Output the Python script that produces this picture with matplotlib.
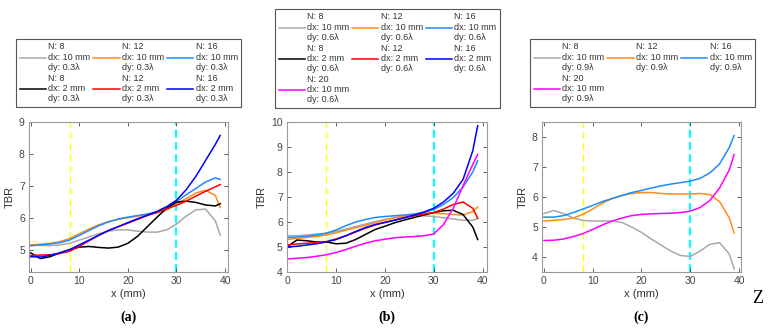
import numpy as np
import matplotlib
matplotlib.use("Agg")
import matplotlib.pyplot as plt

plt.rcParams['font.family'] = ['Liberation Sans', 'DejaVu Sans']

# sample positions (mm)
x = [0, 2, 4, 6, 8, 10, 12, 14, 16, 18, 20, 22, 24, 26, 28, 30, 32, 34, 36, 38, 39]

# (a) dy: 0.3 lambda
a_n8_10 = [5.15, 5.13, 5.13, 5.15, 5.2, 5.3, 5.4, 5.5, 5.58, 5.62, 5.62, 5.58, 5.55, 5.55, 5.62, 5.8, 6.05, 6.25, 6.27, 5.9, 5.45]
a_n12_10 = [5.15, 5.17, 5.2, 5.25, 5.35, 5.5, 5.65, 5.78, 5.88, 5.95, 6.0, 6.05, 6.1, 6.15, 6.25, 6.44, 6.6, 6.78, 6.86, 6.7, 6.32]
a_n16_10 = [5.12, 5.15, 5.18, 5.22, 5.3, 5.45, 5.6, 5.75, 5.87, 5.96, 6.02, 6.07, 6.12, 6.18, 6.3, 6.51, 6.72, 6.92, 7.12, 7.25, 7.2]
a_n8_2 = [4.9, 4.72, 4.78, 4.9, 5.0, 5.08, 5.1, 5.07, 5.05, 5.08, 5.2, 5.42, 5.72, 6.02, 6.3, 6.49, 6.52, 6.48, 6.4, 6.37, 6.44]
a_n12_2 = [4.82, 4.83, 4.84, 4.88, 4.95, 5.1, 5.28, 5.45, 5.6, 5.72, 5.83, 5.95, 6.07, 6.17, 6.28, 6.39, 6.52, 6.68, 6.83, 6.97, 7.04]
a_n16_2 = [4.78, 4.77, 4.82, 4.9, 5.0, 5.15, 5.3, 5.45, 5.6, 5.72, 5.85, 5.97, 6.08, 6.2, 6.35, 6.55, 6.88, 7.3, 7.8, 8.3, 8.58]

# (b) dy: 0.6 lambda
b_n8_10 = [5.45, 5.45, 5.48, 5.52, 5.55, 5.62, 5.72, 5.82, 5.92, 6.02, 6.1, 6.17, 6.22, 6.25, 6.25, 6.22, 6.17, 6.12, 6.07, 6.07, 6.15]
b_n12_10 = [5.3, 5.35, 5.38, 5.42, 5.48, 5.57, 5.67, 5.77, 5.87, 5.97, 6.08, 6.18, 6.25, 6.3, 6.33, 6.35, 6.33, 6.3, 6.28, 6.42, 6.6]
b_n16_10 = [5.38, 5.4, 5.43, 5.48, 5.55, 5.68, 5.85, 6.0, 6.1, 6.18, 6.22, 6.25, 6.28, 6.32, 6.38, 6.5, 6.7, 6.98, 7.4, 8.0, 8.45]
b_n8_2 = [5.02, 5.28, 5.25, 5.2, 5.2, 5.13, 5.15, 5.3, 5.5, 5.7, 5.83, 5.97, 6.08, 6.18, 6.28, 6.38, 6.45, 6.47, 6.3, 5.8, 5.3]
b_n12_2 = [5.08, 5.12, 5.15, 5.18, 5.22, 5.32, 5.45, 5.6, 5.75, 5.88, 5.99, 6.08, 6.17, 6.25, 6.32, 6.38, 6.52, 6.7, 6.8, 6.55, 6.15]
b_n16_2 = [5.0, 5.03, 5.08, 5.13, 5.2, 5.3, 5.45, 5.62, 5.78, 5.9, 5.98, 6.07, 6.17, 6.28, 6.4, 6.55, 6.8, 7.15, 7.7, 8.85, 9.85]
b_n20_10 = [4.52, 4.55, 4.58, 4.63, 4.69, 4.78, 4.9, 5.03, 5.15, 5.25, 5.31, 5.37, 5.4, 5.42, 5.45, 5.52, 5.9, 6.55, 7.45, 8.3, 8.7]

# (c) dy: 0.9 lambda
c_n8_10 = [5.45, 5.55, 5.45, 5.3, 5.22, 5.2, 5.2, 5.2, 5.15, 5.0, 4.82, 4.6, 4.4, 4.2, 4.05, 4.02, 4.2, 4.42, 4.48, 4.1, 3.6]
c_n12_10 = [5.2, 5.22, 5.25, 5.3, 5.42, 5.6, 5.8, 5.95, 6.05, 6.12, 6.15, 6.15, 6.12, 6.1, 6.1, 6.1, 6.12, 6.08, 5.85, 5.3, 4.8]
c_n16_10 = [5.33, 5.33, 5.38, 5.48, 5.6, 5.72, 5.85, 5.95, 6.05, 6.15, 6.22, 6.3, 6.37, 6.43, 6.48, 6.53, 6.62, 6.8, 7.1, 7.65, 8.05]
c_n20_10 = [4.55, 4.56, 4.6, 4.68, 4.78, 4.92, 5.07, 5.2, 5.3, 5.38, 5.42, 5.44, 5.45, 5.46, 5.48, 5.53, 5.65, 5.88, 6.3, 6.9, 7.42]

gray = '#a8a8a8'
orange = '#ff8c1a'
lblue = '#1e8cff'


def lab(n, dx, dy):
    return "N: %d\ndx: %d mm\ndy: %sλ" % (n, dx, dy)


def setup(ax, ylim, xlim):
    ax.set_xlim(*xlim)
    ax.set_ylim(*ylim)
    ax.set_xticks([0, 10, 20, 30, 40])
    ax.tick_params(direction='in', length=3, width=0.6, top=True, right=True,
                   labelsize=7.5, colors='#444444', pad=3)
    for s in ax.spines.values():
        s.set_color('#9a9a9a')
        s.set_linewidth(0.8)
    ax.set_xlabel("x (mm)", fontsize=8, color='#333333', labelpad=2)
    ax.set_ylabel("TBR", fontsize=8, color='#333333', labelpad=3)
    ax.axvline(8, color='#ffff00', lw=1.0, ls=(0, (5, 3)), zorder=1)
    ax.axvline(30, color='#00ffff', lw=1.6, ls=(0, (3.5, 2)), zorder=1)


def add_legend(ax, anchor):
    h, l = ax.get_legend_handles_labels()
    # matplotlib fills columns first; reorder so entries read row by row
    order = sorted(range(len(h)), key=lambda i: (i % 3, i // 3))
    leg = ax.legend([h[i] for i in order], [l[i] for i in order],
                    loc='lower left', bbox_to_anchor=anchor, ncol=3, fontsize=6.5,
                    handlelength=2.9, handletextpad=0.25, columnspacing=0.35,
                    labelspacing=0.15, borderpad=0.4, borderaxespad=0,
                    fancybox=False, framealpha=1, edgecolor='#555555')
    leg.get_frame().set_linewidth(0.8)
    for t in leg.get_texts():
        t.set_color('#333333')


fig = plt.figure(figsize=(7.7, 3.28), dpi=100)

# panel a
ax1 = fig.add_axes([0.0377, 0.1707, 0.2584, 0.4573])
ax1.plot(x, a_n8_10, color=gray, lw=1.1, label=lab(8, 10, "0.3"))
ax1.plot(x, a_n12_10, color=orange, lw=1.1, label=lab(12, 10, "0.3"))
ax1.plot(x, a_n16_10, color=lblue, lw=1.1, label=lab(16, 10, "0.3"))
ax1.plot(x, a_n8_2, color='black', lw=1.1, label=lab(8, 2, "0.3"))
ax1.plot(x, a_n12_2, color='red', lw=1.1, label=lab(12, 2, "0.3"))
ax1.plot(x, a_n16_2, color='blue', lw=1.1, label=lab(16, 2, "0.3"))
setup(ax1, (4.3, 9), (-0.35, 40.6))
add_legend(ax1, (-0.065, 1.10))

# panel b
ax2 = fig.add_axes([0.3727, 0.1707, 0.2597, 0.4573])
ax2.plot(x, b_n8_10, color=gray, lw=1.1, label=lab(8, 10, "0.6"))
ax2.plot(x, b_n12_10, color=orange, lw=1.1, label=lab(12, 10, "0.6"))
ax2.plot(x, b_n16_10, color=lblue, lw=1.1, label=lab(16, 10, "0.6"))
ax2.plot(x, b_n8_2, color='black', lw=1.1, label=lab(8, 2, "0.6"))
ax2.plot(x, b_n12_2, color='red', lw=1.1, label=lab(12, 2, "0.6"))
ax2.plot(x, b_n16_2, color='blue', lw=1.1, label=lab(16, 2, "0.6"))
ax2.plot(x, b_n20_10, color='magenta', lw=1.1, label=lab(20, 10, "0.6"))
setup(ax2, (4, 10), (-0.05, 40.9))
add_legend(ax2, (-0.06, 1.093))

# panel c
ax3 = fig.add_axes([0.7039, 0.1707, 0.2584, 0.4573])
ax3.plot(x, c_n8_10, color=gray, lw=1.1, label=lab(8, 10, "0.9"))
ax3.plot(x, c_n12_10, color=orange, lw=1.1, label=lab(12, 10, "0.9"))
ax3.plot(x, c_n16_10, color=lblue, lw=1.1, label=lab(16, 10, "0.9"))
ax3.plot(x, c_n20_10, color='magenta', lw=1.1, label=lab(20, 10, "0.9"))
setup(ax3, (3.5, 8.5), (-0.4, 40.4))
add_legend(ax3, (-0.06, 1.10))

for ax, t in [(ax1, "(a)"), (ax2, "(b)"), (ax3, "(c)")]:
    ax.text(0.5, -0.3, t, transform=ax.transAxes, ha='center', va='center',
            fontsize=10, fontweight='bold', family='Liberation Serif')

fig.text(0.984, 0.09, "Z", fontsize=13, family='Liberation Serif', ha='center', va='center')

fig.savefig("out.png", dpi=100)
